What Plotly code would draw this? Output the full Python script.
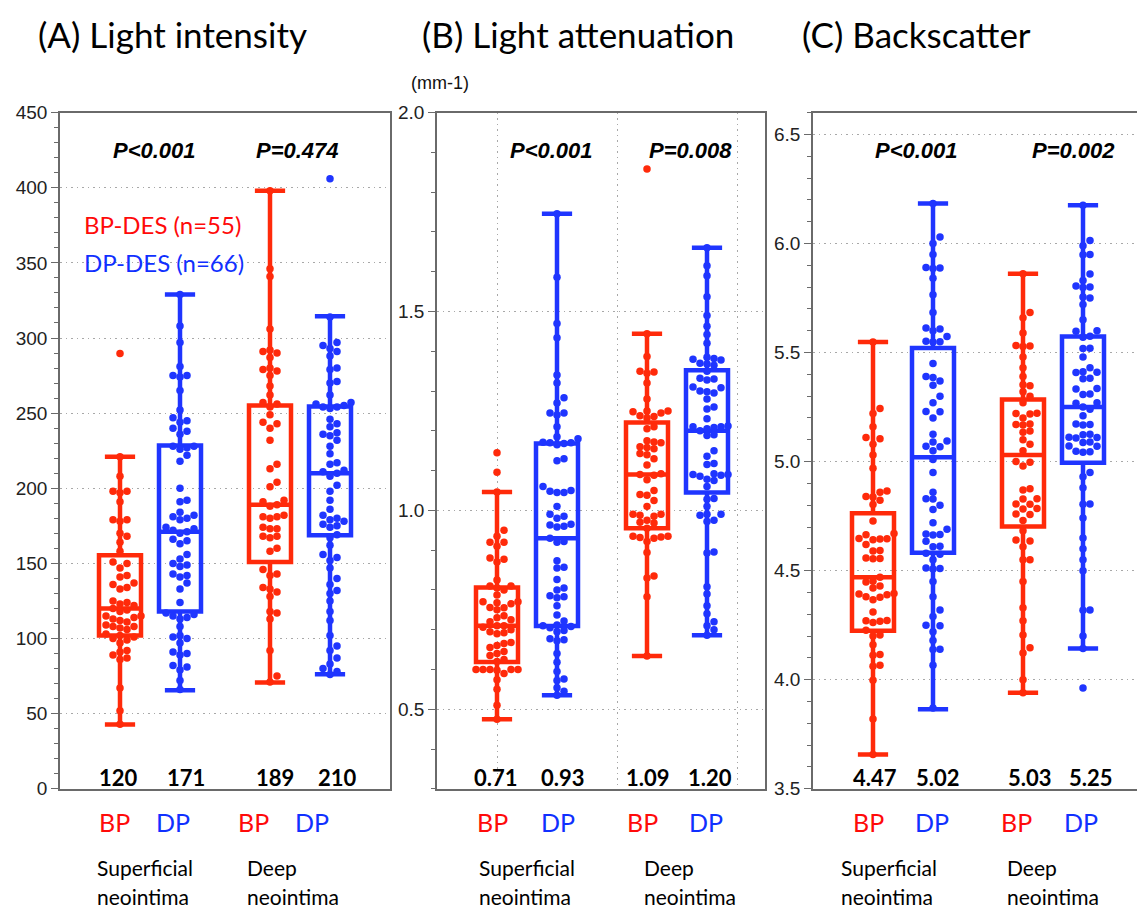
import plotly.graph_objects as go

# ---------------- data ----------------
positions = [1.0, 1.5, 2.25, 2.75]
group_names = ["BP superficial", "DP superficial", "BP deep", "DP deep"]

A_BP_sup = [289.6, 221, 208, 198, 198, 197, 191, 179, 179, 178, 170, 168, 164, 158, 151, 150, 147, 142, 141, 137,
            136, 134, 133, 125, 124, 123, 122, 120, 119, 118, 115, 115, 114, 113, 112, 111, 109, 108, 108, 107,
            106, 103, 102, 101, 100, 99, 97, 92, 91, 89, 87, 86, 67, 52, 43]
A_DP_sup = [329, 308, 297, 281, 275, 275, 274, 265, 252, 247, 245, 244, 240, 238, 236, 228, 228, 227, 226, 222,
            218, 200, 192, 191, 184, 182, 181, 180, 179, 174, 173, 172, 171, 170, 166, 165, 163, 156, 153, 150,
            149, 148, 143, 142, 141, 137, 133, 124, 117, 116, 115, 114, 113, 108, 102, 101, 100, 97, 91, 90,
            89, 82, 81, 79, 72, 66]
A_BP_deep = [398, 346, 341, 306, 292, 291, 290, 287, 280, 279, 278, 275, 268, 262, 257, 256, 254, 249, 244, 243,
             240, 232, 216, 213, 204, 201, 192, 191, 189, 188, 182, 181, 181, 180, 174, 173, 173, 168, 168, 167,
             160, 158, 146, 143, 142, 134, 133, 131, 128, 118, 117, 113, 92, 75, 71]
A_DP_deep = [406, 314, 297, 295, 293, 291, 288, 280, 279, 271, 270, 262, 257, 256, 255, 254, 254, 253, 246, 243,
             241, 237, 236, 235, 232, 228, 223, 217, 216, 212, 211, 210, 208, 202, 198, 192, 186, 182, 180, 179,
             178, 176, 175, 174, 169, 167, 162, 156, 154, 152, 147, 140, 136, 132, 130, 125, 118, 112, 102, 95,
             92, 87, 83, 80, 78, 76]

B_BP_sup = [1.145, 1.096, 1.046, 0.95, 0.935, 0.92, 0.92, 0.91, 0.88, 0.877, 0.87, 0.825, 0.81, 0.81, 0.805, 0.80,
            0.787, 0.77, 0.77, 0.768, 0.765, 0.756, 0.755, 0.75, 0.735, 0.73, 0.725, 0.72, 0.71, 0.71, 0.706, 0.70,
            0.695, 0.692, 0.69, 0.668, 0.665, 0.66, 0.655, 0.645, 0.64, 0.635, 0.625, 0.62, 0.60, 0.60, 0.60, 0.60,
            0.60, 0.598, 0.59, 0.574, 0.55, 0.51, 0.475]
B_DP_sup = [1.746, 1.586, 1.47, 1.434, 1.34, 1.32, 1.283, 1.27, 1.245, 1.245, 1.24, 1.21, 1.185, 1.18, 1.171, 1.17,
            1.17, 1.168, 1.165, 1.13, 1.125, 1.06, 1.05, 1.048, 1.045, 1.045, 1.01, 0.99, 0.985, 0.98, 0.965, 0.963,
            0.96, 0.958, 0.93, 0.922, 0.92, 0.873, 0.857, 0.855, 0.826, 0.805, 0.80, 0.785, 0.783, 0.78, 0.76,
            0.737, 0.722, 0.712, 0.71, 0.708, 0.705, 0.698, 0.695, 0.677, 0.675, 0.672, 0.64, 0.618, 0.595, 0.576,
            0.572, 0.554, 0.545, 0.535]
B_BP_deep = [1.858, 1.444, 1.387, 1.35, 1.348, 1.345, 1.32, 1.28, 1.25, 1.25, 1.248, 1.245, 1.238, 1.236, 1.232,
             1.21, 1.205, 1.175, 1.172, 1.17, 1.16, 1.158, 1.155, 1.143, 1.14, 1.13, 1.114, 1.092, 1.09, 1.088,
             1.077, 1.05, 1.04, 1.038, 1.025, 1.01, 0.99, 0.99, 0.988, 0.985, 0.975, 0.97, 0.968, 0.955, 0.935,
             0.935, 0.933, 0.932, 0.93, 0.922, 0.894, 0.835, 0.83, 0.783, 0.634]
B_DP_deep = [1.66, 1.615, 1.59, 1.537, 1.49, 1.463, 1.442, 1.42, 1.385, 1.382, 1.38, 1.378, 1.37, 1.368, 1.365,
             1.35, 1.332, 1.33, 1.328, 1.31, 1.308, 1.3, 1.298, 1.295, 1.28, 1.26, 1.255, 1.23, 1.212, 1.21, 1.21,
             1.208, 1.205, 1.2, 1.19, 1.188, 1.15, 1.136, 1.118, 1.115, 1.092, 1.09, 1.09, 1.088, 1.086, 1.078,
             1.075, 1.06, 1.03, 1.028, 1.01, 0.99, 0.99, 0.988, 0.975, 0.972, 0.895, 0.893, 0.808, 0.79, 0.76,
             0.74, 0.72, 0.71, 0.70, 0.686]

C_BP_sup = [5.548, 5.244, 5.22, 5.16, 5.11, 5.105, 5.08, 5.03, 4.97, 4.865, 4.86, 4.84, 4.838, 4.823, 4.803,
            4.728, 4.67, 4.665, 4.648, 4.646, 4.645, 4.642, 4.62, 4.592, 4.59, 4.558, 4.556, 4.555, 4.47, 4.452,
            4.448, 4.43, 4.42, 4.395, 4.393, 4.39, 4.38, 4.378, 4.367, 4.31, 4.272, 4.27, 4.268, 4.262, 4.227,
            4.205, 4.2, 4.16, 4.116, 4.112, 4.066, 4.062, 3.998, 3.82, 3.657]
C_DP_sup = [6.183, 6.03, 6.0, 5.95, 5.89, 5.888, 5.885, 5.84, 5.765, 5.683, 5.612, 5.608, 5.6, 5.573, 5.552, 5.55,
            5.548, 5.45, 5.39, 5.385, 5.37, 5.35, 5.3, 5.27, 5.23, 5.228, 5.2, 5.125, 5.095, 5.09, 5.07, 5.068,
            5.05, 5.01, 4.95, 4.86, 4.83, 4.828, 4.80, 4.78, 4.72, 4.69, 4.668, 4.666, 4.664, 4.635, 4.612, 4.61,
            4.58, 4.575, 4.55, 4.512, 4.51, 4.508, 4.45, 4.38, 4.32, 4.29, 4.25, 4.248, 4.22, 4.18, 4.14, 4.138,
            4.066, 3.87]
C_BP_deep = [5.861, 5.683, 5.66, 5.59, 5.532, 5.53, 5.528, 5.48, 5.43, 5.39, 5.352, 5.348, 5.32, 5.3, 5.27, 5.222,
             5.22, 5.218, 5.2, 5.172, 5.17, 5.168, 4.27, 5.14, 4.0, 5.135, 5.1, 4.55, 5.08, 4.45, 5.05, 5.0, 4.997,
             4.98, 4.875, 4.55, 4.87, 4.83, 4.828, 4.806, 4.804, 4.785, 4.783, 4.76, 4.758, 4.73, 4.683, 4.64,
             4.636, 4.61, 4.33, 4.205, 4.147, 4.122, 3.94]
C_DP_deep = [6.175, 6.014, 5.99, 5.95, 5.948, 5.86, 5.83, 5.805, 5.80, 5.798, 5.755, 5.75, 5.72, 5.65, 5.60, 5.598,
             5.575, 5.57, 5.52, 5.518, 5.48, 5.43, 5.412, 5.41, 5.408, 5.382, 5.38, 5.335, 5.333, 5.31, 5.308, 5.27,
             5.268, 5.25, 5.24, 5.21, 5.172, 5.17, 5.168, 5.125, 5.123, 5.112, 5.11, 5.108, 5.09, 5.088, 5.072,
             5.07, 5.047, 5.045, 5.043, 4.95, 4.93, 4.88, 4.806, 4.804, 4.742, 4.65, 4.60, 4.55, 4.50, 4.32, 4.318,
             4.2, 4.143, 3.962]

# box statistics: q1, median, q3, lower whisker, upper whisker
A_stats = {"q1": [102, 118, 151, 168.8], "median": [120, 171, 189, 210], "q3": [155.5, 228.4, 255, 254.4],
           "lo": [42.7, 65.6, 70.8, 76.2], "hi": [221, 329, 398, 314.5]}
B_stats = {"q1": [0.619, 0.709, 0.955, 1.045], "median": [0.71, 0.93, 1.09, 1.20], "q3": [0.806, 1.168, 1.221, 1.352],
           "lo": [0.475, 0.535, 0.634, 0.686], "hi": [1.046, 1.746, 1.444, 1.660]}
C_stats = {"q1": [4.225, 4.582, 4.703, 4.995], "median": [4.47, 5.02, 5.03, 5.25], "q3": [4.763, 5.521, 5.285, 5.573],
           "lo": [3.657, 3.865, 3.94, 4.143], "hi": [5.548, 6.183, 5.861, 6.175]}

median_labels_A = ["120", "171", "189", "210"]
median_labels_B = ["0.71", "0.93", "1.09", "1.20"]
median_labels_C = ["4.47", "5.02", "5.03", "5.25"]

titles = ["(A) Light intensity", "(B) Light attenuation", "(C) Backscatter"]
pvals_A = ["P&lt;0.001", "P=0.474"]
pvals_B = ["P&lt;0.001", "P=0.008"]
pvals_C = ["P&lt;0.001", "P=0.002"]

# ---------------- styling ----------------
W, H = 1137, 919
RED = "#ff2a0a"
BLUE = "#1f35ff"
TXT_RED = "#ff0a0a"
TXT_BLUE = "#1030ff"
colors = [RED, BLUE, RED, BLUE]
AX = "#6a6a6a"
GRID = "#a8a8a8"
GDASH = "1.5px,4px"

def px(x):
    return x / W

def py(y):
    return 1 - y / H

plot_top, plot_bot = 105, 797
ydom = [py(plot_bot), py(plot_top)]
PPX = 120.0  # px per x-unit

panels = [
    dict(dom=[60, 390], xr=[0.5, 0.5 + 330 / PPX], yr=[0, 450], groups=[A_BP_sup, A_DP_sup, A_BP_deep, A_DP_deep],
         stats=A_stats),
    dict(dom=[437, 765], xr=[0.5, 0.5 + 328 / PPX], yr=[0.3, 2.0], groups=[B_BP_sup, B_DP_sup, B_BP_deep, B_DP_deep],
         stats=B_stats),
    dict(dom=[813, 1137], xr=[0.5, 0.5 + 324 / PPX], yr=[3.5, 6.6], groups=[C_BP_sup, C_DP_sup, C_BP_deep, C_DP_deep],
         stats=C_stats),
]


def swarm(vals, pos, ppu_y, step=7.0, dist=6.8):
    order = sorted(range(len(vals)), key=lambda i: vals[i])
    placed = []
    xs = [pos] * len(vals)
    cands = [0.0]
    for k in range(1, 12):
        cands += [k * step, -k * step]
    for i in order:
        yv = vals[i] * ppu_y
        for c in cands:
            ok = True
            for (qx, qy) in placed:
                if (c - qx) ** 2 + (yv - qy) ** 2 < dist * dist:
                    ok = False
                    break
            if ok:
                break
        placed.append((c, yv))
        xs[i] = pos + c / PPX
    return xs


fig = go.Figure()
plot_h = plot_bot - plot_top

for pi, p in enumerate(panels):
    xa = "x" if pi == 0 else f"x{pi + 1}"
    ya = "y" if pi == 0 else f"y{pi + 1}"
    ppu_y = plot_h / (p["yr"][1] - p["yr"][0])
    st = p["stats"]
    for gi in range(4):
        fig.add_trace(go.Box(
            x=[positions[gi]], q1=[st["q1"][gi]], median=[st["median"][gi]], q3=[st["q3"][gi]],
            lowerfence=[st["lo"][gi]], upperfence=[st["hi"][gi]],
            width=0.35, whiskerwidth=0.72, line=dict(color=colors[gi], width=4.5),
            fillcolor="rgba(0,0,0,0)", boxpoints=False, showlegend=False,
            name=group_names[gi], xaxis=xa, yaxis=ya, hoverinfo="skip"))
    for gi in range(4):
        vals = p["groups"][gi]
        fig.add_trace(go.Scatter(
            x=swarm(vals, positions[gi], ppu_y), y=vals, mode="markers",
            marker=dict(color=colors[gi], size=7.5, line=dict(width=0)),
            showlegend=False, name=group_names[gi], xaxis=xa, yaxis=ya, hoverinfo="skip"))

tickfont = dict(family="Liberation Sans, Arial", size=19, color="#222222")

layout = dict(width=W, height=H, margin=dict(l=0, r=0, t=0, b=0, pad=0), plot_bgcolor="white",
              paper_bgcolor="white", boxmode="overlay", showlegend=False, hovermode=False)

for pi, p in enumerate(panels):
    xk = "xaxis" if pi == 0 else f"xaxis{pi + 1}"
    yk = "yaxis" if pi == 0 else f"yaxis{pi + 1}"
    ya = "y" if pi == 0 else f"y{pi + 1}"
    xa = "x" if pi == 0 else f"x{pi + 1}"
    xcfg = dict(domain=[px(p["dom"][0]), min(1.0, px(p["dom"][1]))], range=p["xr"], showline=True, linecolor=AX,
                linewidth=1.5, mirror=True, showticklabels=False, ticks="", zeroline=False, anchor=ya,
                showgrid=(pi == 1), gridcolor=GRID, griddash=GDASH, gridwidth=1, tickvals=[1, 2, 3])
    ycfg = dict(domain=ydom, range=p["yr"], showline=True, linecolor=AX, linewidth=1.5, mirror=(pi != 2),
                ticks="outside", ticklen=7, tickwidth=1.2, tickcolor=AX, tickfont=tickfont,
                showgrid=True, gridcolor=GRID, griddash=GDASH, gridwidth=1, zeroline=False, anchor=xa)
    if pi == 0:
        ycfg.update(dtick=50, tick0=0,
                    minor=dict(dtick=10, tick0=0, ticks="outside", ticklen=4, tickcolor=AX, showgrid=False))
    else:
        ycfg.update(dtick=0.5, tick0=0, tickformat=".1f",
                    minor=dict(dtick=0.1, tick0=0, ticks="outside", ticklen=4, tickcolor=AX, showgrid=False))
    layout[xk] = xcfg
    layout[yk] = ycfg

fig.update_layout(**layout)

ann = []
def add_text(text, x, y, size, color="black", family="Lato", xanchor="center", yanchor="middle"):
    ann.append(dict(text=text, x=px(x), y=py(y), xref="paper", yref="paper", showarrow=False,
                    xanchor=xanchor, yanchor=yanchor, font=dict(family=family, size=size, color=color)))

# titles
for t, cx in zip(titles, [172, 578, 916]):
    add_text(t, cx, 25, 35)
add_text("(mm-1)", 440, 75, 18, color="#111111", family="Liberation Sans, Arial")

# legend text
add_text("BP-DES (n=55)", 82, 220, 24, color=TXT_RED, xanchor="left")
add_text("DP-DES (n=66)", 82, 258, 24, color=TXT_BLUE, xanchor="left")

# p-values
pfont = "Liberation Sans, Arial"
for txt, cx in zip(pvals_A + pvals_B + pvals_C, [154, 297, 551, 690, 916, 1073]):
    add_text(f"<b><i>{txt}</i></b>", cx, 144, 22, family=pfont)

# medians
med_x = [118, 186, 275, 337, 496, 563, 648, 710, 875, 938, 1030, 1091]
for txt, cx in zip(median_labels_A + median_labels_B + median_labels_C, med_x):
    add_text(f"<b>{txt}</b>", cx, 785, 22)

# BP / DP labels
bp_x = [114, 253, 492, 642, 868, 1016]
dp_x = [173, 312, 558, 706, 932, 1081]
for cx in bp_x:
    add_text("BP", cx, 831, 25, color=TXT_RED)
for cx in dp_x:
    add_text("DP", cx, 831, 25, color=TXT_BLUE)

# group names
for lx in [95, 477, 839]:
    add_text("Superficial", lx, 878, 21, xanchor="left")
    add_text("neointima", lx, 907, 21, xanchor="left")
for lx in [245, 642, 1005]:
    add_text("Deep", lx, 878, 21, xanchor="left")
    add_text("neointima", lx, 907, 21, xanchor="left")

fig.update_layout(annotations=ann)
fig.write_html("out.html", config={"displayModeBar": False},
               post_script="document.body.style.margin='0px';document.body.style.overflow='hidden';")
